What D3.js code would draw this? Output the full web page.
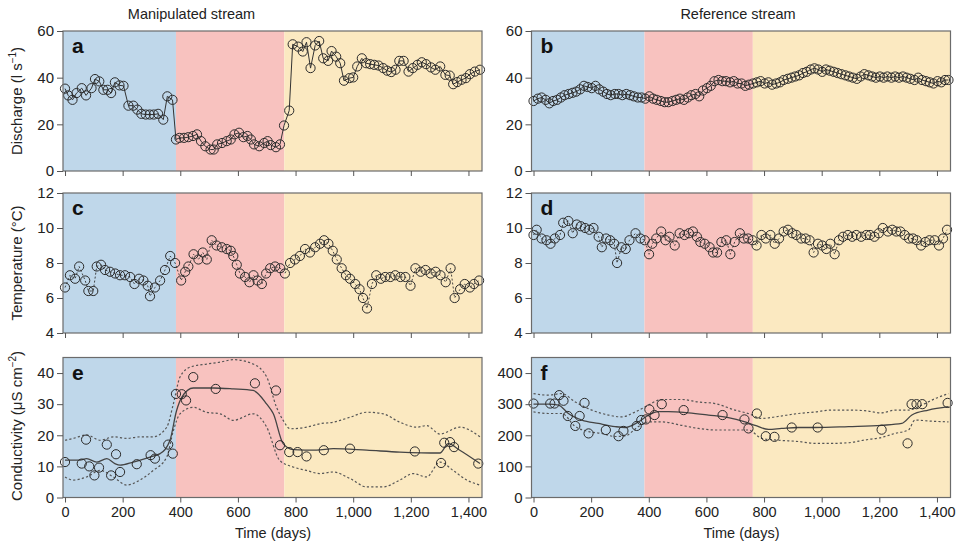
<!DOCTYPE html>
<html><head><meta charset="utf-8">
<script src="https://cdn.jsdelivr.net/npm/d3@7"></script>
<style>body{margin:0;background:#fff}svg{display:block;font-family:"Liberation Sans",Arial,sans-serif}</style>
</head><body><svg id="c" width="959" height="548"></svg>
<script>
// ---------- data ----------
const periodBreaks = [385, 761];
const xTicks = [0, 200, 400, 600, 800, 1000, 1200, 1400];

const dischargeManDays = [0,11,26,40,58,73,92,104,119,133,148,160,173,189,203,220,237,251,265,280,294,308,323,341,355,373,385,397,413,428,444,458,472,487,505,516,528,545,561,575,588,604,619,633,645,656,674,691,703,714,732,746,760,778,790,809,825,838,852,868,882,896,913,925,941,955,968,987,1000,1014,1030,1045,1059,1073,1088,1104,1118,1132,1147,1160,1175,1192,1207,1223,1238,1253,1270,1285,1302,1320,1335,1347,1361,1376,1391,1405,1422,1440];
const dischargeMan = [35.3,32.4,30.5,33.4,35.5,32.4,35.5,39.4,38.4,34.8,34.8,33.4,38,36.7,36.5,28,28,26.3,24.5,24.2,24.2,24.2,24.5,22,32,30.5,13.5,14.2,14.2,14.5,15,15.7,12.8,10.6,9.2,9.2,11.4,12,12.8,13.5,15.7,16.4,14.5,15,13.5,11.4,10.6,12,12.8,11.1,10.2,11.4,19.5,25.9,54.3,53.3,51.2,55.2,44.1,53.8,55.7,48.3,47.2,51.4,49,46.2,38.7,39.8,40.1,44.8,48.3,46.2,45.8,45.5,45.2,44.1,43,42.4,43.4,47.2,47.2,42.6,44.1,45.5,46.6,45.8,44.4,43.4,44.8,41.2,40.9,37.2,38.1,39.1,39.8,41.5,42.6,43.4];

const dischargeRefDays = [0,15,28,42,55,68,82,95,108,122,135,148,162,175,188,202,215,228,242,255,268,282,295,308,322,335,348,362,375,388,402,415,428,442,455,468,482,495,508,522,535,548,562,575,588,602,615,628,642,655,668,682,695,708,722,735,748,762,775,788,802,815,828,842,855,868,882,895,908,922,935,948,962,975,988,1002,1015,1028,1042,1055,1068,1082,1095,1108,1122,1135,1148,1162,1175,1188,1202,1215,1228,1242,1255,1268,1282,1295,1308,1322,1335,1348,1362,1375,1388,1402,1415,1428,1440];
const dischargeRef = [30,31,31.5,30.5,29,30,30.5,31.5,32.5,33,33.5,34,35,36.5,36,35.5,36.5,35,34,33,32.5,33,33,32.5,33,32.5,32,31.5,31.5,31,32,31,30.5,30,29.5,29.5,30,30.5,31,30.5,31.5,32.5,33,32,34.5,35.5,36.5,38.5,39,38.5,38.5,38,38.5,37.5,37.5,36.5,37,37.5,38,38.5,37.5,38,37,37.5,38,39,39.5,40,40.5,41,42,42.5,43.5,44,43.5,42.5,43.5,43,42.5,42,41.5,41,40.5,40,39.5,40.5,41.5,41,40.5,40,40.5,40,40.5,40,40.5,40,40.5,40,39.5,39,40,39,38.5,38,37.5,38.5,38,39,39];

const tempManDays = [0,17,35,49,70,81,98,110,125,139,156,174,191,208,226,241,257,272,287,295,312,330,347,365,382,403,417,428,446,463,478,492,509,526,544,561,575,584,596,607,625,640,654,668,683,698,712,729,747,763,781,798,815,833,850,868,885,899,914,929,943,960,975,989,1007,1022,1034,1048,1065,1080,1096,1111,1129,1146,1164,1181,1199,1216,1234,1251,1269,1286,1303,1321,1338,1352,1371,1387,1405,1419,1437];
const tempMan = [6.6,7.3,7.1,7.8,7.0,6.4,6.4,7.8,7.9,7.6,7.5,7.4,7.3,7.3,7.2,6.8,7.1,7.0,6.7,6.1,6.6,7.0,7.6,8.4,8.0,7.0,7.5,7.8,8.5,8.2,8.6,8.2,9.3,9.0,8.9,8.8,8.7,8.4,7.9,7.4,7.2,6.9,7.3,7.0,6.8,7.4,7.7,7.8,7.7,7.4,8.0,8.2,8.4,8.8,8.6,8.9,9.1,9.3,9.1,8.7,8.2,7.7,7.3,7.1,6.8,6.5,6.0,5.4,6.8,7.3,7.1,7.2,7.2,7.3,7.2,7.2,6.7,7.7,7.5,7.6,7.4,7.5,7.3,6.9,7.7,6.0,6.5,6.8,6.6,6.8,7.0];

const tempRefDays = [0,11,28,45,59,74,92,103,121,136,150,164,179,194,208,226,237,252,266,280,290,305,320,333,354,371,386,401,412,426,443,458,472,490,507,524,539,553,567,579,594,611,623,637,652,669,683,698,716,730,745,760,774,791,806,822,837,852,868,883,898,912,929,944,958,972,987,1002,1016,1030,1045,1060,1074,1091,1106,1120,1137,1155,1168,1183,1198,1212,1230,1245,1259,1273,1288,1303,1317,1330,1345,1360,1374,1392,1407,1421,1435];
const tempRef = [9.6,9.9,9.4,9.3,9.1,9.4,9.6,10.3,10.4,9.7,10.2,10.1,10.0,9.9,10.0,9.5,8.9,9.4,9.3,9.1,8.0,8.9,8.8,9.3,9.7,9.4,9.3,8.5,9.1,9.4,9.8,9.3,9.5,9.0,9.7,9.6,9.7,9.8,9.5,9.2,9.1,8.9,8.6,8.6,9.2,9.3,8.5,9.2,9.7,9.4,9.4,9.3,9.0,9.6,9.4,9.6,9.1,9.4,9.8,9.9,9.7,9.6,9.4,9.4,9.3,8.6,9.1,9.0,8.8,9.1,8.5,9.3,9.5,9.6,9.5,9.6,9.5,9.6,9.6,9.5,9.7,10.0,9.8,9.9,9.8,9.8,9.6,9.4,9.4,9.3,9.0,9.2,9.3,9.3,9.0,9.4,9.9];

const condManDays = [0,58,73,84,102,118,145,160,177,191,249,297,312,358,374,385,405,420,445,523,659,732,746,778,807,838,898,989,1214,1305,1316,1336,1350,1434];
const condMan = [11.4,10.9,18.6,10.0,7.1,9.6,17,7.1,13.9,8.2,10.7,13.6,12.5,17,14.1,33.3,33.2,31.2,38.7,34.9,36.7,34.4,16.8,14.6,14.6,13.2,15.2,15.7,14.8,11.1,17.6,17.8,16.2,10.9];
const condManFitDays = [0,52,75,110,145,173,191,237,295,330,364,387,405,445,515,584,653,700,723,757,792,873,931,1047,1162,1301,1330,1370,1440];
const condManFit = [12.0,12.0,12.5,11.4,12.5,10.9,10.4,11.4,13.0,14.1,18.3,27.9,32.2,35.2,35.2,34.9,34.4,30.0,26.9,17.3,15.4,15.2,15.7,15.2,14.6,14.3,17.3,15.2,10.9];
const condManUpDays = [0,29,75,122,168,214,260,306,353,376,399,434,491,538,584,653,700,734,757,781,838,884,931,989,1047,1104,1162,1220,1255,1301,1370,1440];
const condManUp = [18.4,19.0,20.1,18.4,19.5,19.0,19.5,19.5,22.6,30.1,38.7,41.9,42.9,43.5,44.3,42.9,38.7,29.0,24.8,22.1,22.6,23.7,24.2,25.8,27.4,26.9,24.2,22.6,23.1,20.4,22.6,19.5];
const condManLoDays = [0,29,75,122,168,214,260,306,353,376,399,445,491,538,584,653,700,745,792,838,884,931,989,1047,1104,1162,1208,1255,1301,1347,1394,1440];
const condManLo = [6.6,5.6,6.6,8.7,6.6,4.0,5.6,8.7,13.0,21.5,26.9,29.0,27.4,26.9,24.8,26.9,22.6,11.9,9.8,8.7,7.7,8.2,6.1,3.4,3.4,5.6,7.7,6.6,11.4,8.7,5.6,4.0];

const condRefDays = [0,58,73,89,104,119,145,160,177,191,251,295,312,358,374,390,402,420,445,521,656,732,746,775,806,836,896,986,1208,1298,1312,1329,1349,1437];
const condRef = [302,302,302,329,311,262,230,262,304,206,217,197,214,230,249,251,283,265,300,281,265,251,222,270,197,195,225,225,218,174,300,300,300,304];
const condRefFitDays = [0,52,87,121,168,225,283,318,364,399,434,468,538,607,676,734,769,815,861,919,977,1093,1208,1278,1313,1370,1440];
const condRefFit = [300,300,297,270,249,238,228,225,243,265,276,276,272,265,257,243,232,219,222,225,225,228,232,238,265,281,292];
const condRefUpDays = [0,52,98,145,202,260,306,353,399,434,468,514,572,630,699,745,792,838,919,977,1035,1093,1150,1208,1255,1301,1347,1394,1440];
const condRefUp = [334,329,334,307,281,265,259,275,297,313,315,315,307,302,281,270,254,259,270,275,281,281,279,272,281,281,297,318,334];
const condRefLoDays = [0,52,98,145,191,237,283,318,364,399,445,514,572,630,699,745,792,838,919,977,1035,1093,1150,1208,1255,1301,1324,1370,1440];
const condRefLo = [275,270,270,228,212,206,196,198,228,243,243,232,222,217,217,217,190,185,180,174,174,176,185,193,206,217,249,246,243];

// ---------- layout ----------
const svg = d3.select("#c");
const colX = [63, 531.5], W = 419;
const rowY = [31, 193, 357.5], H = 140;
const bgColors = ["#bfd7ea", "#f8c2bf", "#fbe9c1"];
const ink = "#222";
const zip = (a, b) => a.map((d, i) => [d, b[i]]);

const panels = [
  {col:0,row:0,letter:"a",dom:[0,60],ticks:[0,20,40,60],pts:zip(dischargeManDays,dischargeMan),line:"solid"},
  {col:1,row:0,letter:"b",dom:[0,60],ticks:[0,20,40,60],pts:zip(dischargeRefDays,dischargeRef),line:"solid"},
  {col:0,row:1,letter:"c",dom:[4,12],ticks:[4,6,8,10,12],pts:zip(tempManDays,tempMan),line:"dot"},
  {col:1,row:1,letter:"d",dom:[4,12],ticks:[4,6,8,10,12],pts:zip(tempRefDays,tempRef),line:"dot"},
  {col:0,row:2,letter:"e",dom:[0,45],ticks:[0,10,20,30,40],pts:zip(condManDays,condMan),
    fit:zip(condManFitDays,condManFit),up:zip(condManUpDays,condManUp),lo:zip(condManLoDays,condManLo)},
  {col:1,row:2,letter:"f",dom:[0,450],ticks:[0,100,200,300,400],pts:zip(condRefDays,condRef),
    fit:zip(condRefFitDays,condRefFit),up:zip(condRefUpDays,condRefUp),lo:zip(condRefLoDays,condRefLo)}
];

panels.forEach(p => {
  const x0 = colX[p.col], y0 = rowY[p.row];
  const x = d3.scaleLinear().domain([-7, 1447]).range([x0, x0 + W]);
  const y = d3.scaleLinear().domain(p.dom).range([y0 + H, y0]);
  const g = svg.append("g");
  const edges = [x.domain()[0], ...periodBreaks, x.domain()[1]];
  g.selectAll("rect.bg").data(d3.range(3)).join("rect")
    .attr("x", i => x(edges[i])).attr("width", i => x(edges[i+1]) - x(edges[i]))
    .attr("y", y0).attr("height", H).attr("fill", i => bgColors[i]);
  const clip = "clip" + p.letter;
  g.append("clipPath").attr("id", clip).append("rect").attr("x", x0).attr("y", y0).attr("width", W).attr("height", H);
  const lineGen = d3.line().x(d => x(d[0])).y(d => y(d[1]));
  const curve = d3.line().x(d => x(d[0])).y(d => y(d[1])).curve(d3.curveMonotoneX);
  const pg = g.append("g").attr("clip-path", `url(#${clip})`);
  if (p.line === "solid") {
    pg.append("path").datum(p.pts).attr("d", lineGen).attr("fill", "none").attr("stroke", "#333").attr("stroke-width", 1);
  } else if (p.line === "dot") {
    pg.append("path").datum(p.pts).attr("d", lineGen).attr("fill", "none").attr("stroke", "#333")
      .attr("stroke-width", 0.9).attr("stroke-dasharray", "2,2");
  }
  if (p.fit) {
    [p.up, p.lo].forEach(s => pg.append("path").datum(s).attr("d", curve).attr("fill", "none")
      .attr("stroke", "#555").attr("stroke-width", 1.2).attr("stroke-dasharray", "2.2,2.2"));
    pg.append("path").datum(p.fit).attr("d", curve).attr("fill", "none").attr("stroke", "#444").attr("stroke-width", 1.3);
  }
  g.selectAll("circle").data(p.pts).join("circle")
    .attr("cx", d => x(d[0])).attr("cy", d => y(d[1])).attr("r", 4.6)
    .attr("fill", "none").attr("stroke", "#2b2b2b").attr("stroke-width", 1);
  // frame
  g.append("rect").attr("x", x0).attr("y", y0).attr("width", W).attr("height", H)
    .attr("fill", "none").attr("stroke", "#6b6b6b").attr("stroke-width", 1.2);
  // axes
  const ya = d3.axisLeft(y).tickValues(p.ticks).tickSize(6).tickPadding(3).tickSizeOuter(0);
  const yg = g.append("g").attr("transform", `translate(${x0},0)`).call(ya);
  yg.select(".domain").remove();
  yg.selectAll("line").attr("stroke", "#555");
  yg.selectAll("text").attr("font-size", 15).attr("fill", ink);
  const xa = d3.axisBottom(x).tickValues(xTicks).tickSize(5).tickSizeOuter(0).tickPadding(4)
    .tickFormat(p.row === 2 ? d3.format(",") : "");
  const xg = g.append("g").attr("transform", `translate(0,${y0 + H})`).call(xa);
  xg.select(".domain").remove();
  xg.selectAll("line").attr("stroke", "#555");
  xg.selectAll("text").attr("font-size", 14.5).attr("fill", ink);
  g.append("text").attr("x", x0 + 9).attr("y", y0 + 22).text(p.letter)
    .attr("font-size", 21).attr("font-weight", "bold").attr("fill", "#111");
});

// titles
svg.append("text").attr("x", colX[0] + W/2 - 81).attr("y", 19).attr("text-anchor", "middle")
  .attr("font-size", 14.5).attr("fill", ink).text("Manipulated stream");
svg.append("text").attr("x", colX[1] + W/2 - 3).attr("y", 19).attr("text-anchor", "middle")
  .attr("font-size", 14.5).attr("fill", ink).text("Reference stream");
[colX[0], colX[1]].forEach(cx => svg.append("text").attr("x", cx + 210).attr("y", 538)
  .attr("text-anchor", "middle").attr("font-size", 14.5).attr("fill", ink).text("Time (days)"));

// y labels
const ylab = (cy, parts) => {
  const t = svg.append("text").attr("transform", `translate(22,${cy}) rotate(-90)`)
    .attr("text-anchor", "middle").attr("font-size", 15).attr("fill", ink);
  parts.forEach(([s, sup]) => {
    const ts = t.append("tspan").text(s);
    if (sup) ts.attr("font-size", 10).attr("dy", -6);
    else if (t.node().childNodes.length > 1 && parts[parts.indexOf([s, sup])]) {}
  });
  return t;
};
const t1 = svg.append("text").attr("transform", "translate(22,101) rotate(-90)").attr("text-anchor", "middle").attr("font-size", 15).attr("fill", ink);
t1.append("tspan").text("Discharge (l s");
t1.append("tspan").text("−1").attr("font-size", 10).attr("dy", -6);
t1.append("tspan").text(")").attr("dy", 6);
svg.append("text").attr("transform", "translate(22,263) rotate(-90)").attr("text-anchor", "middle")
  .attr("font-size", 15).attr("fill", ink).text("Temperature (°C)");
const t3 = svg.append("text").attr("transform", "translate(22,426) rotate(-90)").attr("text-anchor", "middle").attr("font-size", 15).attr("fill", ink);
t3.append("tspan").text("Conductivity (μS cm");
t3.append("tspan").text("−2").attr("font-size", 10).attr("dy", -6);
t3.append("tspan").text(")").attr("dy", 6);
</script></body></html>
